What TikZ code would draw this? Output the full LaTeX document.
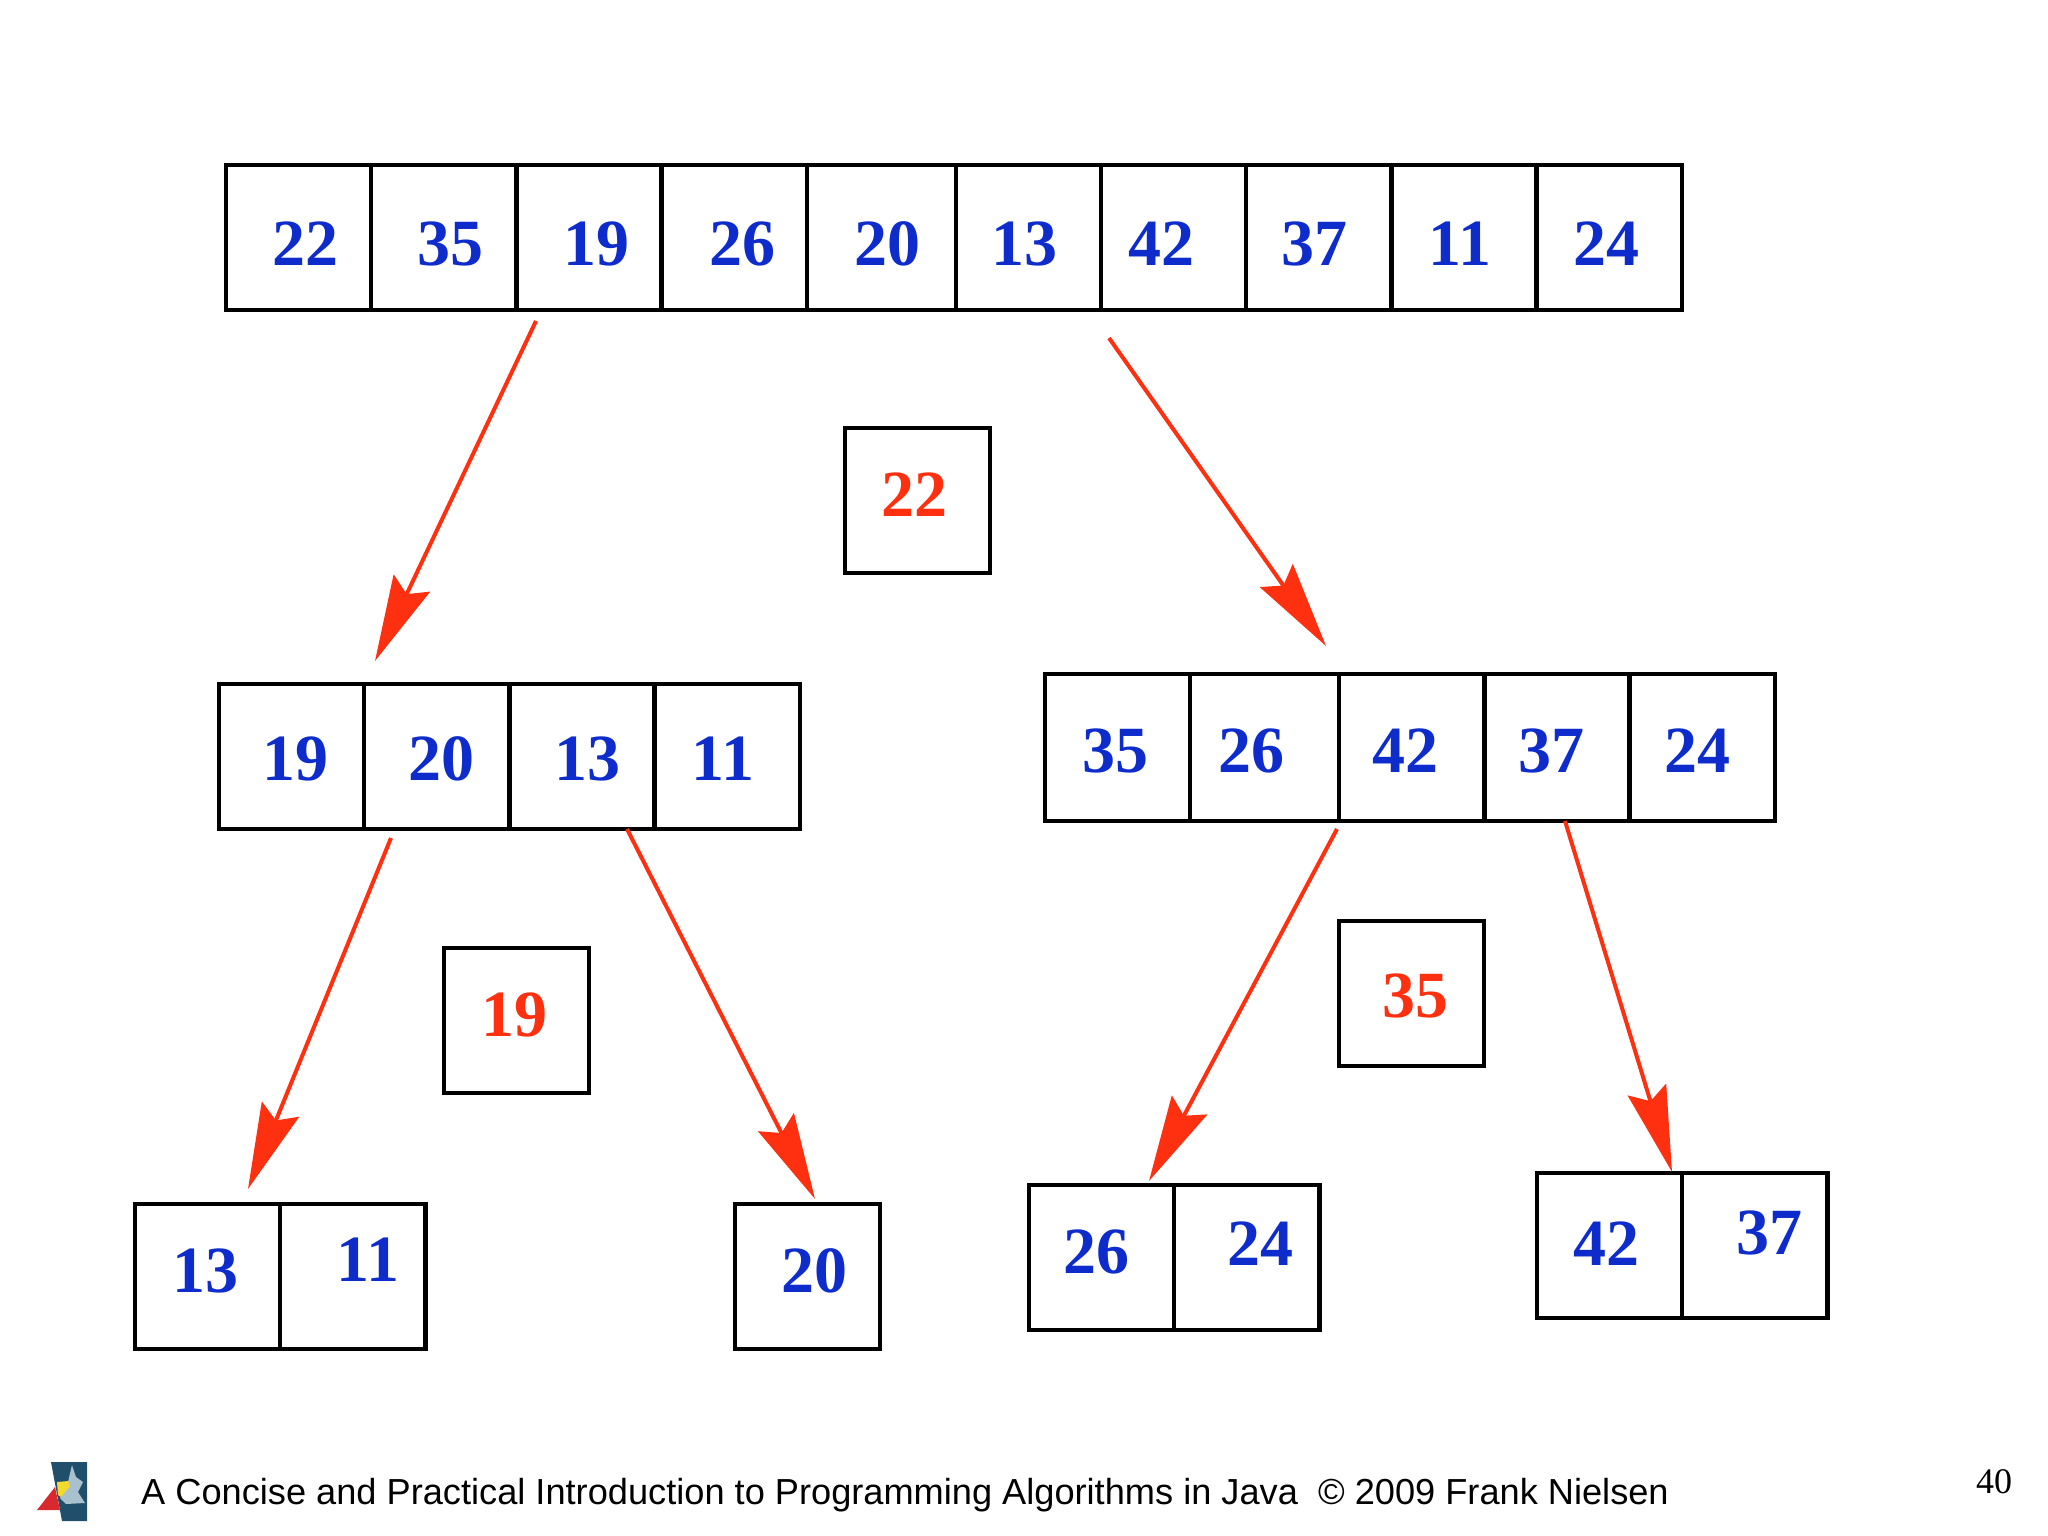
\documentclass[tikz,border=0pt]{standalone}
\usepackage{fontspec}
\setmainfont{Liberation Serif}
\newfontfamily\footfont{Liberation Sans}
\usetikzlibrary{positioning,arrows.meta}
\definecolor{numblue}{HTML}{0E2BCC}
\definecolor{numred}{HTML}{FF3010}
\definecolor{logoteal}{HTML}{1F4F6B}
\definecolor{logostar}{HTML}{A9C0CF}
\definecolor{logored}{HTML}{D8292F}
\definecolor{logoyellow}{HTML}{F2D92B}

\begin{document}
\begin{tikzpicture}[x=1pt, y=-1pt,
    cell/.style={rectangle, draw=black, line width=4.4pt, minimum width=145.2pt, minimum height=145pt, inner sep=0pt, outer sep=0pt},
    num/.style={inner sep=0pt, text=numblue, font=\fontsize{66}{66}\selectfont\bfseries},
    rednum/.style={num, text=numred},
    split/.style={draw=numred, line width=4pt, -{Stealth[length=86pt, width=40pt, inset=12pt]}}]
    \useasboundingbox (0,0) rectangle (2048,1535);

    % Whole array
    \node[cell, anchor=north west] (a1) at (226,165) {};
    \node[cell] (a2) [right=0pt of a1] {};
    \node[cell] (a3) [right=0pt of a2] {};
    \node[cell] (a4) [right=0pt of a3] {};
    \node[cell, minimum width=149pt] (a5) [right=0pt of a4] {};
    \node[cell] (a6) [right=0pt of a5] {};
    \node[cell] (a7) [right=0pt of a6] {};
    \node[cell] (a8) [right=0pt of a7] {};
    \node[cell] (a9) [right=0pt of a8] {};
    \node[cell] (a10) [right=0pt of a9] {};
    \node[num] (a1v) at (305,244) {22};
    \node[num] (a2v) at (450,244) {35};
    \node[num] (a3v) at (596,244) {19};
    \node[num] (a4v) at (742,244) {26};
    \node[num] (a5v) at (887,244) {20};
    \node[num] (a6v) at (1024,244) {13};
    \node[num] (a7v) at (1161,244) {42};
    \node[num] (a8v) at (1314,244) {37};
    \node[num] (a9v) at (1460,244) {11};
    \node[num] (a10v) at (1606,244) {24};

    % Pivots
    \node[cell, anchor=north west] (p1) at (845,428) {};
    \node[rednum] (p1v) at (914,495) {22};
    \node[cell, anchor=north west] (p2) at (444,948) {};
    \node[rednum] (p2v) at (514,1015) {19};
    \node[cell, anchor=north west] (p3) at (1339,921) {};
    \node[rednum] (p3v) at (1415,996) {35};

    % Left part
    \node[cell, anchor=north west] (l1) at (219,684) {};
    \node[cell] (l2) [right=0pt of l1] {};
    \node[cell] (l3) [right=0pt of l2] {};
    \node[cell] (l4) [right=0pt of l3] {};
    \node[num] (l1v) at (295,759) {19};
    \node[num] (l2v) at (441,759) {20};
    \node[num] (l3v) at (587,759) {13};
    \node[num] (l4v) at (723,759) {11};

    % Right part
    \node[cell, anchor=north west, minimum height=147pt] (r1) at (1045,674) {};
    \node[cell, minimum height=147pt, minimum width=149pt] (r2) [right=0pt of r1] {};
    \node[cell, minimum height=147pt] (r3) [right=0pt of r2] {};
    \node[cell, minimum height=147pt] (r4) [right=0pt of r3] {};
    \node[cell, minimum height=147pt] (r5) [right=0pt of r4] {};
    \node[num] (r1v) at (1115,751) {35};
    \node[num] (r2v) at (1251,751) {26};
    \node[num] (r3v) at (1405,751) {42};
    \node[num] (r4v) at (1551,751) {37};
    \node[num] (r5v) at (1697,751) {24};

    % Last level
    \node[cell, anchor=north west] (s1) at (135,1204) {};
    \node[cell] (s2) [right=0pt of s1] {};
    \node[num] (s1v) at (205,1271) {13};
    \node[num] (s2v) at (368,1260) {11};
    \node[cell, anchor=north west] (t1) at (735,1204) {};
    \node[num] (t1v) at (814,1271) {20};
    \node[cell, anchor=north west] (u1) at (1029,1185) {};
    \node[cell] (u2) [right=0pt of u1] {};
    \node[num] (u1v) at (1096,1252) {26};
    \node[num] (u2v) at (1260,1244) {24};
    \node[cell, anchor=north west] (w1) at (1537,1173) {};
    \node[cell] (w2) [right=0pt of w1] {};
    \node[num] (w1v) at (1606,1244) {42};
    \node[num] (w2v) at (1769,1233) {37};

    % Arrow ends
    \coordinate (a3out) at (536,321);
    \coordinate (l1in) at (375,661);
    \coordinate (a7out) at (1109,338);
    \coordinate (r2in) at (1326,646);
    \coordinate (l2out) at (391,838);
    \coordinate (s1in) at (248,1189);
    \coordinate (l3out) at (627,829);
    \coordinate (t1in) at (815,1199);
    \coordinate (r3out) at (1337,829);
    \coordinate (u1in) at (1149,1181);
    \coordinate (r4out) at (1565,821);
    \coordinate (w1in) at (1672,1172);

    % Arrows
    \draw[split] (a3out) -- (l1in);
    \draw[split] (a7out) -- (r2in);
    \draw[split] (l2out) -- (s1in);
    \draw[split] (l3out) -- (t1in);
    \draw[split] (r3out) -- (u1in);
    \draw[split] (r4out) -- (w1in);

    % Footer
    \fill[logoteal] (51,1462) -- (87,1462) -- (87,1521) -- (62,1521) -- cycle;
    \fill[logored] (37,1510) -- (55,1487) -- (60,1510) -- cycle;
    \fill[logostar] (72,1465) -- (76,1477) -- (83,1482) -- (78,1492) -- (85,1503) -- (66,1504) -- (60,1498) -- (68,1482) -- cycle;
    \fill[logoyellow] (57,1482) -- (68,1481) -- (70,1486) -- (61,1497) -- (58,1495) -- cycle;
    \node[anchor=west, inner sep=0pt, font=\fontsize{36.2}{36.2}\selectfont\footfont] (foot) at (141,1495) {A Concise and Practical Introduction to Programming Algorithms in Java\ \ \textcopyright{} 2009 Frank Nielsen};
    \node[inner sep=0pt, font=\fontsize{36}{36}\selectfont] (page) at (1994,1482) {40};
\end{tikzpicture}
\end{document}
